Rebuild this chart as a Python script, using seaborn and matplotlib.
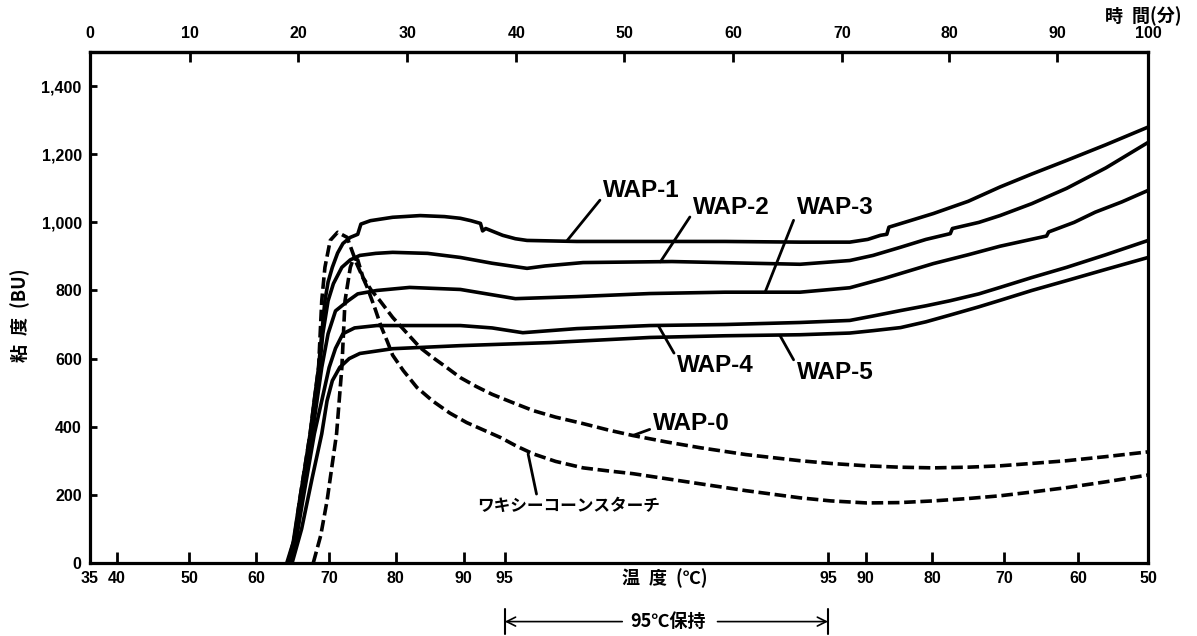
import matplotlib
matplotlib.use("Agg")
import matplotlib.pyplot as plt
import pandas as pd
import seaborn as sns

sns.set_theme(style="white")
plt.rcParams['font.family'] = ['Liberation Sans', 'Noto Sans CJK JP', 'DejaVu Sans']
plt.rcParams['font.weight'] = 'bold'
for key in ('text.color', 'axes.labelcolor', 'xtick.color', 'ytick.color', 'axes.edgecolor'):
    plt.rcParams[key] = 'black'

# Brabender amylogram readings: time (min) vs viscosity (BU)
wap1_t = [18.6, 19.2, 19.8, 20.3, 20.8, 21.2, 21.6, 21.9, 22.2, 22.5, 22.9, 23.4, 23.9, 24.6, 25.3,
          25.6, 26.5, 28.6, 31.2, 33.5, 35.0, 36.0, 36.9, 37.1, 37.4, 38.2, 39.0, 40.2, 41.3, 46.0,
          52.9, 60.0, 67.1, 71.8, 73.5, 74.7, 75.3, 75.5, 77.5, 79.7, 83.0, 86.0, 89.0, 92.3, 96.0, 100.0]
wap1_bu = [0, 60, 182, 280, 379, 480, 574, 673, 770, 825, 868, 910, 938, 956, 965,
           995, 1005, 1015, 1020, 1017, 1012, 1005, 997, 975, 982, 972, 962, 952, 947, 944,
           944, 944, 942, 942, 950, 962, 965, 986, 1005, 1026, 1062, 1104, 1142, 1182, 1228, 1280]

wap2_t = [18.7, 19.3, 19.9, 20.9, 21.7, 22.0, 22.5, 23.0, 23.8, 24.6, 25.5, 27.0, 28.6, 31.9, 35.0,
          38.0, 41.3, 43.0, 46.6, 55.0, 67.1, 71.8, 74.0, 76.6, 79.0, 81.3, 81.5, 84.0, 86.0, 89.0,
          92.3, 96.0, 100.0]
wap2_bu = [0, 70, 182, 379, 574, 673, 770, 820, 868, 890, 903, 909, 912, 909, 897,
           880, 865, 872, 882, 885, 877, 888, 903, 927, 950, 967, 982, 1000, 1020, 1055,
           1100, 1160, 1235]

wap3_t = [18.8, 19.4, 20.0, 21.0, 21.9, 22.5, 23.2, 24.4, 25.3, 27.1, 30.2, 35.0, 40.2, 46.0, 52.9,
          60.0, 67.1, 71.8, 75.0, 79.7, 83.0, 86.0, 90.4, 90.6, 93.0, 95.0, 97.5, 100.0]
wap3_bu = [0, 70, 182, 379, 574, 673, 740, 770, 790, 800, 809, 803, 776, 782, 791,
           795, 795, 808, 835, 879, 905, 930, 960, 972, 1000, 1030, 1060, 1094]

wap4_t = [18.9, 19.5, 20.1, 21.2, 21.9, 22.6, 23.2, 23.9, 25.0, 27.1, 35.0, 38.0, 40.9, 46.0, 52.9,
          60.0, 67.1, 71.8, 74.0, 76.6, 79.0, 81.3, 84.0, 86.0, 89.0, 92.3, 96.0, 100.0]
wap4_bu = [0, 70, 182, 379, 476, 574, 630, 673, 690, 697, 697, 690, 676, 688, 697,
           700, 706, 712, 725, 741, 755, 770, 790, 809, 838, 868, 905, 947]

wap5_t = [19.1, 20.0, 21.0, 21.9, 22.4, 22.9, 23.6, 24.5, 25.5, 28.6, 35.0, 43.5, 52.9, 60.0, 67.1,
          71.8, 74.0, 76.6, 79.0, 81.3, 84.0, 86.0, 89.0, 92.3, 96.0, 100.0]
wap5_bu = [0, 100, 250, 379, 476, 535, 574, 600, 615, 629, 638, 647, 662, 667, 670,
           675, 682, 691, 708, 728, 752, 771, 800, 829, 862, 897]

wap0_t = [21.1, 21.8, 22.4, 23.3, 23.8, 24.1, 24.6, 24.9, 25.3, 25.8, 26.6, 27.4, 28.6, 30.0, 31.2,
          32.4, 33.7, 35.0, 36.5, 38.0, 40.0, 41.9, 44.0, 46.6, 49.0, 51.3, 54.5, 57.7, 62.0, 67.1,
          70.0, 73.4, 76.5, 79.7, 83.0, 86.0, 89.0, 92.3, 96.0, 100.0]
wap0_bu = [0, 80, 182, 379, 574, 770, 868, 894, 890, 838, 800, 770, 721, 673, 632,
           603, 574, 544, 518, 495, 470, 447, 428, 409, 390, 374, 355, 338, 318, 300,
           292, 285, 281, 279, 281, 285, 292, 300, 312, 326]

waxy_t = [18.9, 19.3, 19.8, 20.8, 21.6, 21.9, 22.2, 22.7, 23.4, 24.3, 25.2, 26.2, 26.9, 27.5, 28.1,
          28.6, 29.6, 30.9, 32.4, 34.0, 35.6, 37.2, 38.8, 40.3, 41.9, 44.0, 46.6, 49.0, 51.3, 54.5,
          57.7, 62.0, 67.1, 70.0, 73.4, 76.5, 79.7, 83.0, 86.0, 89.0, 92.3, 96.0, 100.0]
waxy_bu = [0, 70, 182, 379, 574, 770, 868, 947, 971, 956, 879, 809, 750, 695, 650,
           610, 565, 515, 475, 440, 412, 390, 368, 343, 320, 298, 279, 270, 262, 247,
           232, 212, 191, 182, 176, 177, 182, 189, 197, 208, 221, 238, 258]

# axis scales
time_ticks = [0, 9.45, 19.7, 30.0, 40.3, 50.5, 60.8, 71.1, 81.2, 91.4, 100]
time_labels = ['0', '10', '20', '30', '40', '50', '60', '70', '80', '90', '100']
temp_ticks = [0, 2.55, 9.36, 15.7, 22.6, 28.9, 35.3, 39.2, 69.75, 73.3, 79.6, 86.4, 93.4, 100]
temp_labels = ['35', '40', '50', '60', '70', '80', '90', '95', '95', '90', '80', '70', '60', '50']
bu_ticks = [0, 200, 400, 600, 800, 1000, 1200, 1400]
bu_labels = ['0', '200', '400', '600', '800', '1,000', '1,200', '1,400']
hold_start, hold_end = 39.2, 69.75

series = [
    ('WAP-1', wap1_t, wap1_bu, '-'),
    ('WAP-2', wap2_t, wap2_bu, '-'),
    ('WAP-3', wap3_t, wap3_bu, '-'),
    ('WAP-4', wap4_t, wap4_bu, '-'),
    ('WAP-5', wap5_t, wap5_bu, '-'),
    ('WAP-0', wap0_t, wap0_bu, '--'),
    ('ワキシーコーンスターチ', waxy_t, waxy_bu, '--'),
]

fig = plt.figure(figsize=(11.97, 6.36), dpi=100)
ax = fig.add_axes([0.0752, 0.115, 0.884, 0.803])

for name, t, bu, ls in series:
    df = pd.DataFrame({'time': t, 'bu': bu})
    sns.lineplot(data=df, x='time', y='bu', ax=ax, color='black', lw=2.6,
                 sort=False, estimator=None)
    line = ax.lines[-1]
    if ls == '--':
        line.set_dashes([3.2, 1.3])
    line.set_solid_joinstyle('round')

ax.set_xlim(0, 100)
ax.set_ylim(0, 1500)
ax.set_xlabel('')
ax.set_ylabel('')

for sp in ax.spines.values():
    sp.set_visible(True)
    sp.set_color('black')
    sp.set_linewidth(2.3)

ax.set_yticks(bu_ticks)
ax.set_yticklabels(bu_labels, fontsize=11.5, fontweight='bold')
ax.set_xticks(temp_ticks)
ax.set_xticklabels(temp_labels, fontsize=11.5, fontweight='bold')
ax.tick_params(axis='y', direction='in', length=5, width=2, pad=6, left=True, colors='black')
ax.tick_params(axis='x', direction='in', length=8, width=2, pad=6, bottom=True, colors='black')

top = ax.secondary_xaxis('top')
top.set_xticks(time_ticks)
top.set_xticklabels(time_labels, fontsize=11.5, fontweight='bold')
top.tick_params(direction='in', length=7, width=2, pad=8, colors='black')
top.spines['top'].set_linewidth(2.3)

label_font = ['Liberation Sans', 'DejaVu Sans']
jp_font = ['Noto Sans CJK JP', 'DejaVu Sans']

# curve labels with leader lines: (text, point on curve, text anchor, relpos)
callouts = [
    ('WAP-1', (45.1, 947), (48.5, 1094), (0, 0.25)),
    ('WAP-2', (53.9, 884), (57.0, 1044), (0, 0.3)),
    ('WAP-3', (63.8, 795), (66.8, 1044), (0, 0.3)),
    ('WAP-4', (53.7, 697), (55.5, 579), (0, 0.8)),
    ('WAP-5', (65.2, 668), (66.8, 559), (0, 0.8)),
    ('WAP-0', (51.3, 374), (53.2, 409), (0, 0.3)),
]
for txt, xy, xyt, rp in callouts:
    ax.annotate(txt, xy=xy, xytext=xyt, ha='left', va='center', fontsize=17.5,
                fontweight='bold', family=label_font, color='black',
                arrowprops=dict(arrowstyle='-', lw=2.0, color='black',
                                shrinkA=0, shrinkB=0, relpos=rp))
ax.annotate('ワキシーコーンスターチ', xy=(41.4, 320), xytext=(45.2, 166), ha='center',
            va='center', fontsize=12, fontweight='bold', family=jp_font, color='black',
            arrowprops=dict(arrowstyle='-', lw=2.0, color='black',
                            shrinkA=0, shrinkB=0, relpos=(0.33, 1)))

xtr = ax.get_xaxis_transform()
ax.text(54.3, -0.03, '温\u2002度\u2002(℃)', transform=xtr, ha='center', va='center',
        fontsize=13, fontweight='bold', family=jp_font)
ax.text(54.6, -0.115, '95℃保持', transform=xtr, ha='center', va='center',
        fontsize=13, fontweight='bold', family=jp_font)
ax.annotate('', xy=(hold_start, -0.115), xytext=(50.3, -0.115), xycoords=xtr, textcoords=xtr,
            annotation_clip=False,
            arrowprops=dict(arrowstyle='->', lw=1.2, color='black', shrinkA=0, shrinkB=0,
                            mutation_scale=16))
ax.annotate('', xy=(hold_end, -0.115), xytext=(59.3, -0.115), xycoords=xtr, textcoords=xtr,
            annotation_clip=False,
            arrowprops=dict(arrowstyle='->', lw=1.2, color='black', shrinkA=0, shrinkB=0,
                            mutation_scale=16))
for xb in (hold_start, hold_end):
    ax.plot([xb, xb], [-0.09, -0.14], transform=xtr, color='black', lw=1.5, clip_on=False)

fig.text(0.955, 0.975, '時\u2002間(分)', ha='center', va='center', fontsize=13,
         fontweight='bold', family=jp_font)
fig.text(0.017, 0.505, '粘\u2002度\u2002(BU)', ha='center', va='center', rotation=90,
         fontsize=13, fontweight='bold', family=jp_font)

fig.savefig('out.png', dpi=100, facecolor='white')
